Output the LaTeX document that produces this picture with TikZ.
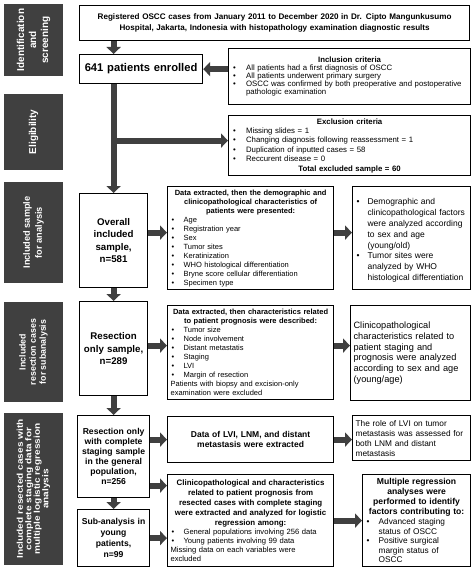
\documentclass[tikz,border=0pt]{standalone}
\usepackage{fontspec}
\setmainfont{Liberation Sans}
\newfontfamily\widesans[FakeStretch=1.2]{Liberation Sans}
\usetikzlibrary{arrows.meta,calc}
\definecolor{dk}{HTML}{404040}
\newcommand\fs[2]{\fontsize{#1bp}{#2bp}\selectfont}
\newcommand\bi[2][13]{\par\noindent\makebox[#1bp][l]{\hspace{1bp}\textbullet}#2}
\newcommand\nl[1][13]{\par\noindent\makebox[#1bp]{}}
\begin{document}
\begin{tikzpicture}[x=1bp,y=-1bp,
  box/.style={draw=black, line width=1.2bp, anchor=north west, inner xsep=3bp, inner ysep=2bp, align=left},
  bar/.style={fill=dk, draw=none, rotate=90, text=white, align=center, inner sep=0pt},
  arr/.style={draw=dk, line width=6bp, -{Triangle[width=14bp,length=7bp]}},
]
\useasboundingbox (0,0) rectangle (474,570);

% side bars
\node[bar, minimum width=72bp, minimum height=59bp, font=\bfseries\fs{10}{12}] (b1) at (33.5,40) {Identification\\and\\screening};
\node[bar, minimum width=76bp, minimum height=59bp, font=\bfseries\fs{10}{12}] (b2) at (33.5,132) {Eligibility};
\node[bar, minimum width=101bp, minimum height=59bp, font=\bfseries\fs{9.2}{12}] (b3) at (33.5,232.5) {Included sample\\for analysis};
\node[bar, minimum width=100bp, minimum height=59bp, font=\bfseries\fs{8.8}{10.2}] (b4) at (33.5,352) {Included\\resection cases\\for subanalysis};
\node[bar, minimum width=152bp, minimum height=59bp, font=\widesans\bfseries\fs{8.4}{8.5}] (b5) at (33.5,489) {Included resected cases with\\complete staging data for\\multiple logistic regression\\analysis};

% boxes
\node[box, minimum width=390bp, minimum height=35bp, text width=383bp, align=center, font=\bfseries\fs{8.1}{11}] (top) at (79,5)
 {Registered OSCC cases from January 2011 to December 2020 in Dr. Cipto Mangunkusumo\\Hospital, Jakarta, Indonesia with histopathology examination diagnostic results};

\node[box, minimum width=123bp, minimum height=29bp, text width=116bp, align=center, font=\bfseries\fs{11.2}{13}] (enr) at (79,54)
 {641 patients enrolled};

\node[box, minimum width=242bp, minimum height=56bp, text width=235bp, font=\fs{7.8}{8.1}] (inc) at (228,48)
 {{\centering\bfseries Inclusion criteria\par}
  \bi[14]{All patients had a first diagnosis of OSCC}
  \bi[14]{All patients underwent primary surgery}
  \bi[14]{OSCC was confirmed by both preoperative and postoperative}\nl[14]pathologic examination};

\node[box, minimum width=242bp, minimum height=60bp, text width=235bp, font=\fs{7.8}{9.4}] (exc) at (228,115)
 {{\centering\bfseries Exclusion criteria\par}
  \bi[14]{Missing slides = 1}
  \bi[14]{Changing diagnosis following reassessment = 1}
  \bi[14]{Duplication of inputted cases = 58}
  \bi[14]{Reccurent disease = 0}
  \par{\centering\bfseries Total excluded sample = 60\par}};

\node[box, minimum width=68bp, minimum height=94bp, text width=62bp, align=center, font=\bfseries\fs{9.7}{12.5}] (ovr) at (79,193)
 {Overall\\included\\sample,\\n=581};

\node[box, minimum width=166bp, minimum height=103bp, text width=160bp, font=\fs{7.5}{9}] (d1) at (167,186)
 {{\centering\bfseries Data extracted, then the demographic and\\clinicopathological characteristics of\\patients were presented:\par}
  \bi{Age}\bi{Registration year}\bi{Sex}\bi{Tumor sites}\bi{Keratinization}
  \bi{WHO histological differentiation}\bi{Bryne score cellular differentiation}\bi{Specimen type}};

\node[box, minimum width=118bp, minimum height=103bp, text width=112bp, font=\fs{8.5}{10.8}] (r1) at (352,186)
 {\bi[12]{Demographic and}\nl[12]clinicopathological factors\nl[12]were analyzed according\nl[12]to sex and age\nl[12](young/old)
  \bi[12]{Tumor sites were}\nl[12]analyzed by WHO\nl[12]histological differentiation};

\node[box, minimum width=68bp, minimum height=94bp, text width=62bp, align=center, font=\bfseries\fs{9.7}{12.5}] (res) at (79,301)
 {Resection\\only sample,\\n=289};

\node[box, minimum width=166bp, minimum height=94bp, text width=160bp, font=\fs{7.5}{9}] (d2) at (167,305)
 {{\centering\bfseries Data extracted, then characteristics related\\to patient prognosis were described:\par}
  \bi{Tumor size}\bi{Node involvement}\bi{Distant metastatis}\bi{Staging}\bi{LVI}\bi{Margin of resection}
  \par{\raggedright Patients with biopsy and excision-only\\examination were excluded\par}};

\node[box, minimum width=120bp, minimum height=95bp, text width=114bp, font=\fs{9.2}{10.9}] (r2) at (350,305)
 {Clinicopathological\\characteristics related to\\patient staging and\\prognosis were analyzed\\according to sex and age\\(young/age)};

\node[box, minimum width=72bp, minimum height=82bp, text width=66bp, align=center, font=\bfseries\fs{8.6}{10}] (cmp) at (77,415)
 {Resection only\\with complete\\staging sample\\in the general\\population,\\n=256};

\node[box, minimum width=166bp, minimum height=46bp, text width=160bp, align=center, font=\bfseries\fs{8.5}{10.5}] (d3) at (167,416)
 {Data of LVI, LNM, and distant\\metastasis were extracted};

\node[box, minimum width=118bp, minimum height=45bp, text width=112bp, font=\fs{8.3}{10}] (r3) at (352,415)
 {The role of LVI on tumor\\metastasis was assessed for\\both LNM and distant\\metastasis};

\node[box, minimum width=72bp, minimum height=57bp, text width=66bp, align=center, font=\bfseries\fs{8.6}{11}] (sub) at (77,509)
 {Sub-analysis in\\young\\patients,\\n=99};

\node[box, minimum width=166bp, minimum height=92bp, text width=160bp, font=\fs{7.6}{9.1}] (d4) at (167,474)
 {{\fs{7.9}{10.1}\centering\bfseries Clinicopathological and characteristics\\related to patient prognosis from\\resected cases with complete staging\\were extracted and analyzed for logistic\\regression among:\par}
  \bi{General populations involving 256 data}
  \bi{Young patients involving 99 data}
  \par{\raggedright Missing data on each variables were\\excluded\par}};

\node[box, minimum width=108bp, minimum height=92bp, text width=102bp, font=\fs{8.3}{9.6}] (r4) at (362,474)
 {{\fs{8.6}{10.2}\centering\bfseries Multiple regression\\analyses were\\performed to identify\\factors contributing to:\par}
  \bi{Advanced staging}\nl status of OSCC
  \bi{Positive surgical}\nl margin status of\nl OSCC};

% connectors
\draw[arr] (top.south -| ovr.north) -- (enr.north -| ovr.north);
\draw[arr] (inc.west |- enr.east) -- (enr.east);
\draw[arr] (enr.south -| ovr.north) -- (ovr.north);
\coordinate (excin) at ([yshift=5bp]exc.west);
\draw[arr] (excin -| ovr.north) -- (excin);

\coordinate (a1) at ([yshift=8bp]ovr.east);
\draw[arr] (a1) -- (a1 -| d1.west);
\draw[arr] (a1 -| d1.east) -- (a1 -| r1.west);
\draw[arr] (ovr.south) -- (res.north);

\coordinate (a2) at ([yshift=3bp]res.east);
\draw[arr] (a2) -- (a2 -| d2.west);
\draw[arr] (a2 -| d2.east) -- (a2 -| r2.west);
\draw[arr] (res.south) -- (res.south |- cmp.north);

\draw[arr] (cmp.east |- d3.west) -- (d3.west);
\draw[arr] (d3.east) -- (d3.east -| r3.west);
\draw[arr] (cmp.south -| res.south) -- (sub.north -| res.south);

\coordinate (a3) at ([yshift=-29bp]cmp.east);
\draw[arr] (a3) -- (a3 -| d4.west);
\draw[arr] (sub.east) -- (sub.east -| d4.west);
\draw[arr] (d4.east) -- (d4.east -| r4.west);
\end{tikzpicture}
\end{document}
